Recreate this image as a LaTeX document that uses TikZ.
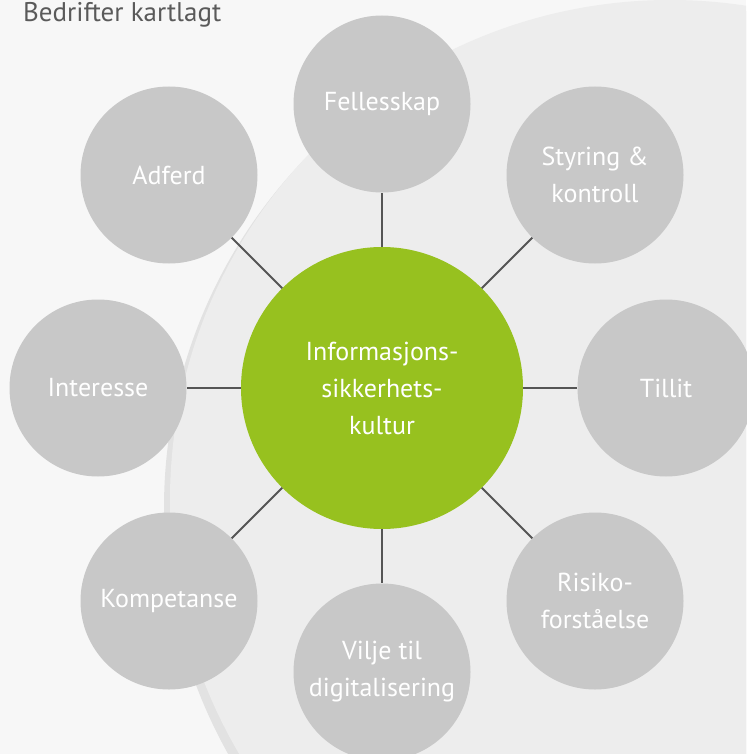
\documentclass[tikz,border=0pt]{standalone}
\usepackage{fontspec}
\setmainfont{PT Sans}
\usetikzlibrary{positioning}
\definecolor{kgreen}{HTML}{97C11F}
\definecolor{satgrey}{HTML}{C8C8C8}
\definecolor{linegrey}{HTML}{555555}
\definecolor{titlegrey}{HTML}{5A5A5A}
\definecolor{bgpale}{HTML}{F7F7F7}
\definecolor{ringgrey}{HTML}{E2E2E2}
\definecolor{innergrey}{HTML}{EDEDED}
\begin{document}
\begin{tikzpicture}[x=1pt,y=-1pt,on grid,
	sat/.style={circle,fill=satgrey,text=white,minimum size=177pt,inner sep=0pt,align=center,font=\fontsize{26}{37}\selectfont},
	core/.style={sat,fill=kgreen,minimum size=282pt}]
		% background
		\fill[bgpale] (0,0) rectangle (746,754);
		\useasboundingbox (0,0) rectangle (746,754);
		\begin{scope}
		\clip (0,0) rectangle (746,754);
		\fill[ringgrey] (667,508) circle[radius=503];
		\fill[innergrey] (670,500) circle[radius=500];
		\end{scope}
		\node[anchor=base west,inner sep=0pt,text=titlegrey,font=\fontsize{27}{30}\selectfont](tittel) at (23,22) {Bedrifter kartlagt};
		% nodes
		\node[core](kultur) at (382,388) {Informasjons-\\sikkerhets-\\kultur};
		\node[sat,above=284pt of kultur](felles){Fellesskap};
		\node[sat,above left=213pt and 213pt of kultur](adferd){Adferd};
		\node[sat,above right=213pt and 213pt of kultur](styring){Styring \&\\kontroll};
		\node[sat,left=284pt of kultur](interesse){Interesse};
		\node[sat,right=284pt of kultur](tillit){Tillit};
		\node[sat,below left=213pt and 213pt of kultur](kompetanse){Kompetanse};
		\node[sat,below=284pt of kultur](vilje){Vilje til\\digitalisering};
		\node[sat,below right=213pt and 213pt of kultur](risiko){Risiko-\\forståelse};
		\path[draw=linegrey,line width=2pt]
		(kultur) edge (felles)
		(kultur) edge (adferd)
		(kultur) edge (styring)
		(kultur) edge (interesse)
		(kultur) edge (tillit)
		(kultur) edge (kompetanse)
		(kultur) edge (vilje)
		(kultur) edge (risiko);
		
		\end{tikzpicture}
\end{document}
